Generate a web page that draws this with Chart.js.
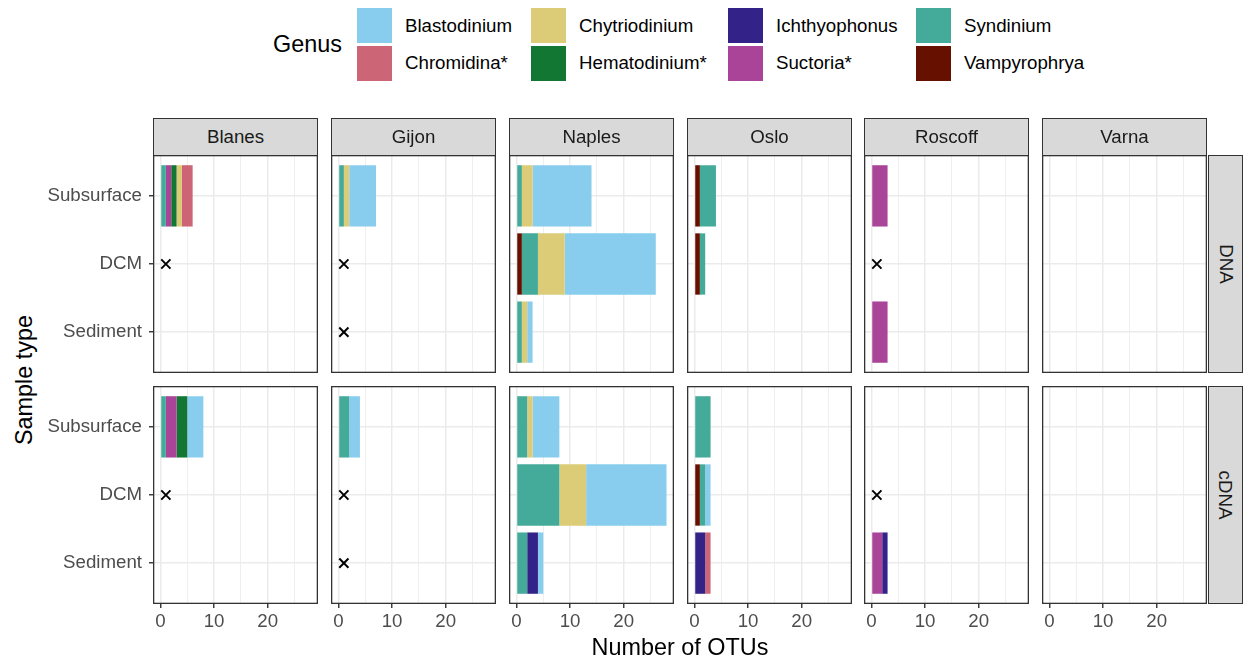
<!DOCTYPE html>
<html><head><meta charset="utf-8">
<script src="https://cdn.jsdelivr.net/npm/chart.js@4/dist/chart.umd.min.js"></script>
<style>
html,body{margin:0;padding:0;background:#fff;}
body{width:1243px;height:664px;position:relative;overflow:hidden;font-family:"Liberation Sans",Arial,sans-serif;}
canvas{position:absolute;}
.strip{position:absolute;background:#D9D9D9;border:1.1px solid #333;box-sizing:border-box;color:#1A1A1A;font-size:18.7px;display:flex;align-items:center;justify-content:center;}
.strip span{white-space:nowrap;}
.key{position:absolute;width:35px;height:35px;}
.lt{position:absolute;font-size:18.7px;color:#000;line-height:1;transform:translateY(-50%);white-space:nowrap;}
.title{position:absolute;font-size:23.4px;color:#000;line-height:1;white-space:nowrap;}
</style></head><body>
<script>
// ---------- data ----------
const SITES = ['Blanes','Gijon','Naples','Oslo','Roscoff','Varna'];
const NUCLEIC = ['DNA','cDNA'];
const SAMPLES = ['Subsurface','DCM','Sediment'];
const GENERA = ['Blastodinium','Chromidina*','Chytriodinium','Hematodinium*','Ichthyophonus','Suctoria*','Syndinium','Vampyrophrya'];
const COLORS = ['#88CCEE','#CC6677','#DDCC77','#117733','#332288','#AA4499','#44AA99','#661100'];
const X_TICKS = [0,5,10,15,20,25];
const X_LABELLED = [0,10,20];

// per site: [Subsurface, DCM, Sediment]  (sites: Blanes, Gijon, Naples, Oslo, Roscoff, Varna)
const blastodiniumDNA   = [[0,0,0],[5,0,0],[11,17,1],[0,0,0],[0,0,0],[0,0,0]];
const blastodiniumCDNA  = [[3,0,0],[2,0,0],[5,15,1],[0,1,0],[0,0,0],[0,0,0]];
const chromidinaDNA     = [[2,0,0],[0,0,0],[0,0,0],[0,0,0],[0,0,0],[0,0,0]];
const chromidinaCDNA    = [[0,0,0],[0,0,0],[0,0,0],[0,0,1],[0,0,0],[0,0,0]];
const chytriodiniumDNA  = [[1,0,0],[1,0,0],[2,5,1],[0,0,0],[0,0,0],[0,0,0]];
const chytriodiniumCDNA = [[0,0,0],[0,0,0],[1,5,0],[0,0,0],[0,0,0],[0,0,0]];
const hematodiniumDNA   = [[1,0,0],[0,0,0],[0,0,0],[0,0,0],[0,0,0],[0,0,0]];
const hematodiniumCDNA  = [[2,0,0],[0,0,0],[0,0,0],[0,0,0],[0,0,0],[0,0,0]];
const ichthyophonusDNA  = [[0,0,0],[0,0,0],[0,0,0],[0,0,0],[0,0,0],[0,0,0]];
const ichthyophonusCDNA = [[0,0,0],[0,0,0],[0,0,2],[0,0,2],[0,0,1],[0,0,0]];
const suctoriaDNA       = [[1,0,0],[0,0,0],[0,0,0],[0,0,0],[3,0,3],[0,0,0]];
const suctoriaCDNA      = [[2,0,0],[0,0,0],[0,0,0],[0,0,0],[0,0,2],[0,0,0]];
const syndiniumDNA      = [[1,0,0],[1,0,0],[1,3,1],[3,1,0],[0,0,0],[0,0,0]];
const syndiniumCDNA     = [[1,0,0],[2,0,0],[2,8,2],[3,1,0],[0,0,0],[0,0,0]];
const vampyrophryaDNA   = [[0,0,0],[0,0,0],[0,1,0],[1,1,0],[0,0,0],[0,0,0]];
const vampyrophryaCDNA  = [[0,0,0],[0,0,0],[0,0,0],[0,1,0],[0,0,0],[0,0,0]];

// samples not available (marked with x), as sample indices per site
const missingDNA  = [[1],[1,2],[],[],[1],[]];
const missingCDNA = [[1],[1,2],[],[],[1],[]];
const MARK_VALUE = 1;

const VALUES = [
  [blastodiniumDNA, blastodiniumCDNA],
  [chromidinaDNA, chromidinaCDNA],
  [chytriodiniumDNA, chytriodiniumCDNA],
  [hematodiniumDNA, hematodiniumCDNA],
  [ichthyophonusDNA, ichthyophonusCDNA],
  [suctoriaDNA, suctoriaCDNA],
  [syndiniumDNA, syndiniumCDNA],
  [vampyrophryaDNA, vampyrophryaCDNA]
];
const MISSING = [missingDNA, missingCDNA];
// stacking order from zero outward (ggplot stacks first level farthest)
const STACK_ORDER = [7,6,5,4,3,2,1,0];

// ---------- layout ----------
const FONT = '"Liberation Sans", Arial, sans-serif';
const PANEL_LEFT = [153, 331, 509, 687, 864, 1042];
const PANEL_W = 165;
const PANEL_TOP = [155, 386];
const PANEL_H = 218;
const LEFT_CANVAS_X = 40;
const X_AXIS_H = 40;

const panelBorder = {
  id: 'panelBorder',
  afterDraw(chart) {
    const {ctx, chartArea: a} = chart;
    ctx.save();
    ctx.strokeStyle = '#333333';
    ctx.lineWidth = 1.3;
    ctx.strokeRect(a.left + 0.65, a.top + 0.65, a.right - a.left - 1.3, a.bottom - a.top - 1.3);
    ctx.restore();
  }
};

function el(tag, cls, style, text) {
  const d = document.createElement(tag);
  if (cls) d.className = cls;
  Object.assign(d.style, style || {});
  if (text !== undefined) d.textContent = text;
  document.body.appendChild(d);
  return d;
}

// panels
for (let r = 0; r < NUCLEIC.length; r++) {
  for (let c = 0; c < SITES.length; c++) {
    const isLeft = c === 0, isBottom = r === NUCLEIC.length - 1;
    const pl = PANEL_LEFT[c], pt = PANEL_TOP[r];
    const cl = isLeft ? LEFT_CANVAS_X : pl;
    const cw = (pl - cl) + PANEL_W;
    const ch = PANEL_H + (isBottom ? X_AXIS_H : 0);
    const cv = document.createElement('canvas');
    cv.width = cw; cv.height = ch;
    cv.style.left = cl + 'px'; cv.style.top = pt + 'px';
    cv.style.width = cw + 'px'; cv.style.height = ch + 'px';
    document.body.appendChild(cv);

    const datasets = STACK_ORDER.map(g => ({
      type: 'bar',
      label: GENERA[g],
      backgroundColor: COLORS[g],
      borderWidth: 0,
      barPercentage: 0.9,
      categoryPercentage: 1,
      data: SAMPLES.map((s, i) => ({x: VALUES[g][r][c][i] || null, y: i}))
    }));
    datasets.push({
      type: 'scatter',
      label: 'missing',
      data: MISSING[r][c].map(i => ({x: MARK_VALUE, y: i})),
      pointStyle: 'crossRot',
      pointRadius: 6.5,
      borderColor: '#000',
      backgroundColor: '#000',
      borderWidth: 2
    });

    new Chart(cv, {
      data: {datasets},
      plugins: [panelBorder],
      options: {
        animation: false, responsive: false, devicePixelRatio: 1,
        indexAxis: 'y',
        layout: {padding: 0, autoPadding: false},
        plugins: {legend: {display: false}, tooltip: {enabled: false}},
        scales: {
          x: {
            type: 'linear', position: 'bottom', stacked: true,
            min: -1.4, max: 29.4, offset: false,
            afterBuildTicks: a => { a.ticks = X_TICKS.map(v => ({value: v})); },
            afterFit: a => { a.height = isBottom ? X_AXIS_H : 0; a.paddingLeft = 0; a.paddingRight = 0; },
            border: {display: false},
            grid: {
              offset: false,
              color: '#EBEBEB',
              lineWidth: ctx => (ctx.tick && X_LABELLED.includes(ctx.tick.value)) ? 1.5 : 0.8,
              drawTicks: isBottom, tickLength: 4,
              tickColor: ctx => (ctx.tick && X_LABELLED.includes(ctx.tick.value)) ? '#333333' : 'rgba(0,0,0,0)',
              tickWidth: 1.4
            },
            ticks: {
              display: isBottom, autoSkip: false, maxRotation: 0, padding: 3,
              color: '#4D4D4D', font: {family: FONT, size: 18.7},
              callback: v => X_LABELLED.includes(v) ? String(v) : ''
            }
          },
          y: {
            type: 'linear', position: 'left', stacked: true, reverse: true,
            min: -0.6, max: 2.6, offset: false,
            afterBuildTicks: a => { a.ticks = SAMPLES.map((s, i) => ({value: i})); },
            afterFit: a => { a.width = isLeft ? (pl - cl) : 0; a.paddingTop = 0; a.paddingBottom = 0; },
            border: {display: false},
            grid: {offset: false, color: '#EBEBEB', lineWidth: 1.5, drawTicks: isLeft, tickLength: 4, tickColor: '#333333', tickWidth: 1.4},
            ticks: {
              display: isLeft, padding: 7,
              color: '#4D4D4D', font: {family: FONT, size: 18.7},
              callback: v => SAMPLES[v]
            }
          }
        }
      }
    });
  }
}

// top strips
SITES.forEach((s, c) => {
  const d = el('div', 'strip', {left: PANEL_LEFT[c] + 'px', top: '118px', width: PANEL_W + 'px', height: '38px'});
  const sp = document.createElement('span'); sp.textContent = s; d.appendChild(sp);
});
// right strips
NUCLEIC.forEach((n, r) => {
  const d = el('div', 'strip', {left: '1208px', top: PANEL_TOP[r] + 'px', width: '35px', height: PANEL_H + 'px'});
  const sp = document.createElement('span'); sp.textContent = n; sp.style.transform = 'rotate(90deg)'; sp.style.display = 'inline-block';
  d.appendChild(sp);
});

// axis titles
el('div', 'title', {left: '680px', top: '648px', transform: 'translate(-50%,-50%)'}, 'Number of OTUs');
el('div', 'title', {left: '25px', top: '380px', transform: 'translate(-50%,-50%) rotate(-90deg)'}, 'Sample type');

// legend
el('div', 'title', {left: '273px', top: '45px', transform: 'translateY(-50%)'}, 'Genus');
const KEY_X = [357, 531, 728, 916];
const KEY_Y = [8, 45.7];
GENERA.forEach((g, i) => {
  const col = Math.floor(i / 2), row = i % 2;
  el('div', 'key', {left: KEY_X[col] + 'px', top: KEY_Y[row] + 'px', background: COLORS[i]});
  el('div', 'lt', {left: (KEY_X[col] + 48) + 'px', top: (KEY_Y[row] + 17.5) + 'px'}, g);
});
</script>
</body></html>
